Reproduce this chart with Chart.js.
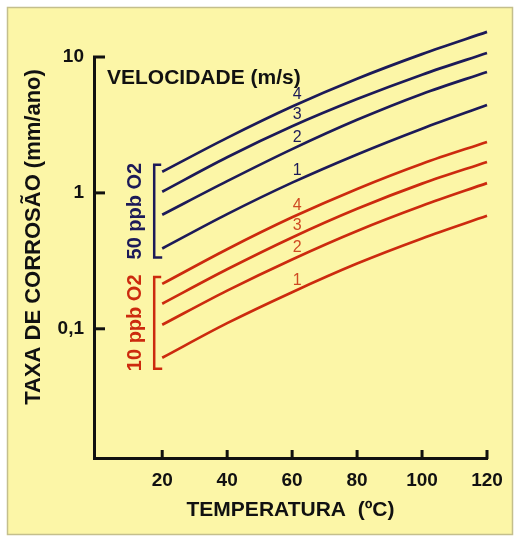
<!DOCTYPE html>
<html><head><meta charset="utf-8">
<script src="https://cdn.jsdelivr.net/npm/chart.js@4/dist/chart.umd.min.js"></script>
<style>html,body{margin:0;padding:0;background:#fff;} canvas{display:block;}</style>
</head><body>
<canvas id="c" width="520" height="536"></canvas>
<script>
// ---- data ----
const temperatures = [20, 40, 60, 80, 100, 120];
const xTicks = [20, 40, 60, 80, 100, 120];
const yTicks = [0.1, 1, 10];
const velocityLabels = ['1', '2', '3', '4'];
// 50 ppb O2, velocities 1..4 m/s
const o2_50_v1 = [0.39, 0.698, 1.19, 1.92, 2.97, 4.44];
const o2_50_v2 = [0.69, 1.22, 2.10, 3.45, 5.35, 7.76];
const o2_50_v3 = [1.02, 1.83, 3.09, 4.90, 7.41, 10.7];
const o2_50_v4 = [1.43, 2.54, 4.32, 6.92, 10.5, 15.3];
// 10 ppb O2, velocities 1..4 m/s
const o2_10_v1 = [0.0612, 0.110, 0.186, 0.302, 0.462, 0.678];
const o2_10_v2 = [0.107, 0.191, 0.324, 0.525, 0.804, 1.18];
const o2_10_v3 = [0.153, 0.274, 0.470, 0.764, 1.17, 1.69];
const o2_10_v4 = [0.214, 0.385, 0.661, 1.07, 1.64, 2.37];

const NAVY = '#1c1a58';
const RED = '#cc2a0e';
const RED_TXT = '#cf4a22';
const FONT = 'Liberation Sans, Arial, Helvetica, sans-serif';

const series50 = [o2_50_v1, o2_50_v2, o2_50_v3, o2_50_v4];
const series10 = [o2_10_v1, o2_10_v2, o2_10_v3, o2_10_v4];

function mk(arr, vel, group, color) {
  return {
    label: group + ' v' + vel,
    vel: vel, group: group,
    data: temperatures.map((t, i) => ({x: t, y: arr[i]})),
    borderColor: color, backgroundColor: color,
    borderWidth: 2.7, pointRadius: 0, fill: false,
    cubicInterpolationMode: 'monotone', clip: false
  };
}
const datasets = [];
series50.forEach((a, i) => datasets.push(mk(a, velocityLabels[i], '50', NAVY)));
series10.forEach((a, i) => datasets.push(mk(a, velocityLabels[i], '10', RED)));

const decor = {
  id: 'decor',
  beforeDraw(chart) {
    const ctx = chart.ctx;
    ctx.save();
    ctx.fillStyle = '#fcf6a7';
    ctx.fillRect(7, 7, 506, 528);
    ctx.strokeStyle = '#c4bf8c';
    ctx.lineWidth = 1.5;
    ctx.strokeRect(7.5, 7.5, 505, 527);
    ctx.restore();
  },
  afterDraw(chart) {
    const ctx = chart.ctx, xs = chart.scales.x, ys = chart.scales.y, ca = chart.chartArea;
    ctx.save();
    // inward tick marks
    ctx.strokeStyle = '#111'; ctx.lineWidth = 3; ctx.lineCap = 'butt';
    xTicks.forEach(v => {
      const px = xs.getPixelForValue(v);
      ctx.beginPath(); ctx.moveTo(px, ca.bottom + 1); ctx.lineTo(px, ca.bottom - 8); ctx.stroke();
    });
    yTicks.forEach(v => {
      const py = ys.getPixelForValue(v);
      ctx.beginPath(); ctx.moveTo(ca.left - 1, py); ctx.lineTo(ca.left + 11, py); ctx.stroke();
    });
    // y axis title
    ctx.fillStyle = '#111';
    ctx.font = 'bold 22px ' + FONT;
    ctx.textAlign = 'center'; ctx.textBaseline = 'middle';
    ctx.save(); ctx.translate(34, 237); ctx.rotate(-Math.PI / 2);
    ctx.fillText('TAXA DE CORROSÃO (mm/ano)', 0, 0);
    ctx.restore();
    // velocity heading
    ctx.font = 'bold 21px ' + FONT;
    ctx.textAlign = 'left';
    ctx.fillText('VELOCIDADE (m/s)', 107, 78);
    // brackets + group labels
    const x20 = xs.getPixelForValue(temperatures[0]);
    function bracket(top, bottom, color, text) {
      const bx = x20 - 8;
      ctx.strokeStyle = color; ctx.lineWidth = 2.5;
      ctx.beginPath();
      ctx.moveTo(bx + 7, top); ctx.lineTo(bx, top); ctx.lineTo(bx, bottom); ctx.lineTo(bx + 8, bottom);
      ctx.stroke();
      ctx.fillStyle = color; ctx.font = 'bold 20px ' + FONT;
      ctx.textAlign = 'center'; ctx.textBaseline = 'middle';
      ctx.save(); ctx.translate(bx - 19, (top + bottom) / 2); ctx.rotate(-Math.PI / 2);
      ctx.fillText(text, 0, 0);
      ctx.restore();
    }
    bracket(ys.getPixelForValue(o2_50_v4[0]) - 7, ys.getPixelForValue(o2_50_v1[0]) + 9, NAVY, '50 ppb O2');
    bracket(ys.getPixelForValue(o2_10_v4[0]) - 7, ys.getPixelForValue(o2_10_v1[0]) + 11, RED, '10 ppb O2');
    // velocity numbers on curves at 60 °C
    ctx.font = '16px ' + FONT; ctx.textAlign = 'center'; ctx.textBaseline = 'middle';
    chart.data.datasets.forEach(ds => {
      const p = ds.data[2];
      const px = xs.getPixelForValue(p.x) + 5;
      const py = ys.getPixelForValue(p.y) - 12;
      ctx.fillStyle = ds.group === '50' ? NAVY : RED_TXT;
      ctx.fillText(ds.vel, px, py);
    });
    ctx.restore();
  }
};

new Chart(document.getElementById('c'), {
  type: 'line',
  data: {datasets: datasets},
  plugins: [decor],
  options: {
    responsive: false, animation: false,
    layout: {padding: {left: 0, top: 57, right: 33, bottom: 0}},
    plugins: {legend: {display: false}, tooltip: {enabled: false}},
    scales: {
      x: {
        type: 'linear', min: -1, max: 120,
        afterBuildTicks: s => { s.ticks = xTicks.map(v => ({value: v})); },
        afterFit: s => { s.height = 78; },
        grid: {display: false, drawTicks: false},
        border: {display: true, color: '#111', width: 3},
        ticks: {padding: 11, color: '#111', maxRotation: 0, autoSkip: false,
                font: {family: FONT, size: 19, weight: 'bold'}},
        title: {display: true, text: 'TEMPERATURA  (ºC)', color: '#111',
                font: {family: FONT, size: 21, weight: 'bold'}, padding: {top: 0, bottom: 13}}
      },
      y: {
        type: 'logarithmic', min: 0.0112, max: 10,
        afterBuildTicks: s => { s.ticks = yTicks.map(v => ({value: v})); },
        afterFit: s => { s.width = 94; },
        grid: {display: false, drawTicks: false},
        border: {display: true, color: '#111', width: 3},
        ticks: {padding: 10, color: '#111', autoSkip: false,
                font: {family: FONT, size: 19, weight: 'bold'},
                callback: v => String(v).replace('.', ',')}
      }
    }
  }
});
</script>
</body></html>
